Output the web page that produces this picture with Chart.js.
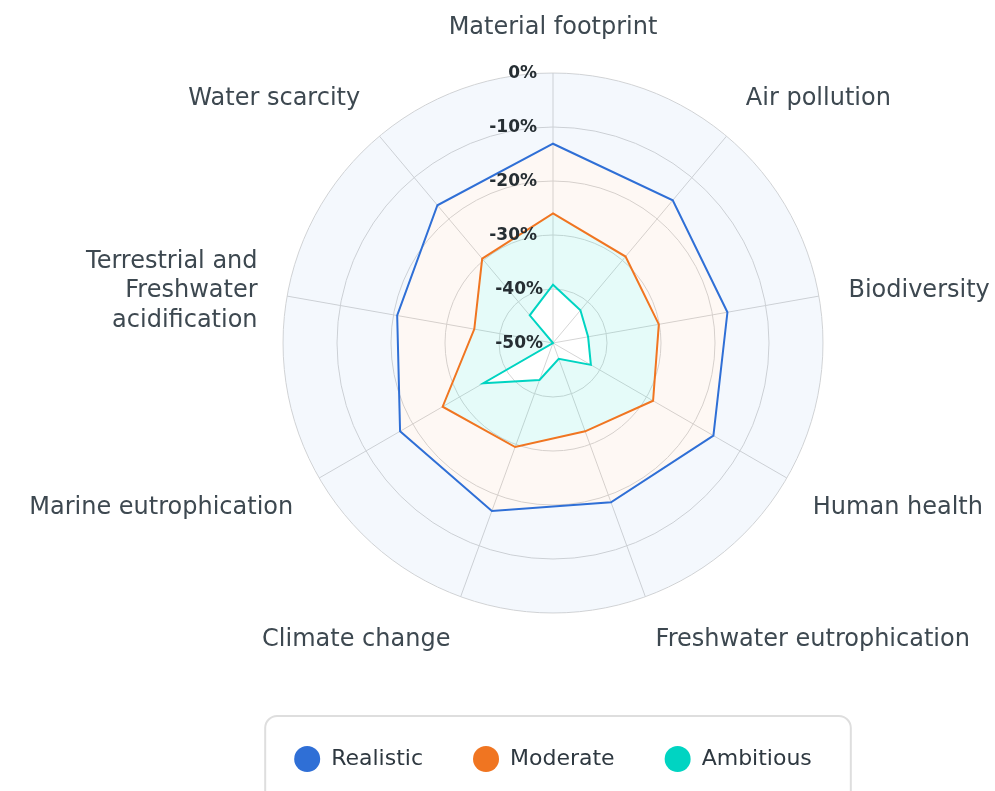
<!DOCTYPE html>
<html>
<head>
    <meta charset="utf-8" />
    <title>Impact reduction by scenario</title>
    <script src="https://cdn.jsdelivr.net/npm/chart.js"></script>
    <style>
        html, body { margin: 0; padding: 0; background: #ffffff; }
        #wrap { width: 995px; height: 791px; overflow: hidden; }
    </style>
</head>
<body>
    <div id="wrap">
        <canvas id="graficoRadar" width="995" height="791"></canvas>
    </div>

    <script>
        // Impact categories, clockwise from the top
        const categories = [
            'Material footprint',
            'Air pollution',
            'Biodiversity',
            'Human health',
            'Freshwater eutrophication',
            'Climate change',
            'Marine eutrophication',
            ['Terrestrial and', 'Freshwater', 'acidification'],
            'Water scarcity'
        ];

        // Change vs. baseline (%) per scenario
        const realistic = [-13.1, -15.5, -17.2, -15.7, -18.6, -16.9, -17.3, -20.7, -16.7];
        const moderate  = [-26.0, -29.1, -30.1, -28.6, -32.6, -29.5, -26.4, -35.2, -29.6];
        const ambitious = [-39.2, -42.1, -43.4, -41.9, -46.9, -42.7, -35.1, -50.0, -43.3];

        // Ring values, centre to edge
        const tickValues = [-50, -40, -30, -20, -10, 0];

        const labelFont = '24px "DejaVu Sans"';
        const labelLine = 29.5;
        const tickInset = [10, 10, 16, 16, 16, 16];

        // Ring labels, right aligned just left of the vertical axis
        const ringLabels = {
            id: 'ringLabels',
            afterDatasetsDraw(chart) {
                const scale = chart.scales.r;
                const ctx = chart.ctx;
                ctx.save();
                ctx.font = 'bold 17px "DejaVu Sans"';
                ctx.fillStyle = '#262e33';
                ctx.textAlign = 'right';
                ctx.textBaseline = 'middle';
                tickValues.forEach((v, i) => {
                    const y = scale.yCenter - scale.getDistanceFromCenterForValue(v);
                    ctx.fillText(v + '%', scale.xCenter - tickInset[i], y + 1);
                });
                ctx.restore();
            }
        };

        // Category names around the outer ring
        const axisNames = {
            id: 'axisNames',
            afterDraw(chart) {
                const scale = chart.scales.r;
                const ctx = chart.ctx;
                ctx.save();
                ctx.font = labelFont;
                ctx.fillStyle = '#3d4850';
                ctx.textBaseline = 'middle';
                categories.forEach((label, i) => {
                    const lines = [].concat(label);
                    const angle = scale.getIndexAngle(i);
                    const pos = scale.getPointPosition(i, scale.drawingArea + 30);
                    const deg = Math.round(angle * 180 / Math.PI) % 360;
                    ctx.textAlign = (deg === 0 || deg === 180) ? 'center' : (deg < 180 ? 'left' : 'right');
                    const h = lines.length * labelLine;
                    const c = Math.cos(angle);
                    let top;
                    if (Math.abs(c) < 0.25) top = pos.y - h / 2;
                    else if (c > 0) top = pos.y - h;
                    else top = pos.y;
                    lines.forEach((t, k) => ctx.fillText(t, pos.x, top + labelLine * (k + 0.5)));
                });
                ctx.restore();
            }
        };

        // Rounded frame around the legend
        const legendFrame = {
            id: 'legendFrame',
            afterDraw(chart) {
                const boxes = chart.legend.legendHitBoxes;
                if (!boxes || !boxes.length) return;
                const first = boxes[0];
                const last = boxes[boxes.length - 1];
                const cy = first.top + first.height / 2;
                const x0 = first.left - 29;
                const x1 = last.left + last.width + 39;
                const ctx = chart.ctx;
                ctx.save();
                ctx.strokeStyle = '#dedede';
                ctx.lineWidth = 2;
                ctx.beginPath();
                ctx.roundRect(x0, cy - 43, x1 - x0, 130, 12);
                ctx.stroke();
                ctx.restore();
            }
        };

        var ctx1 = document.getElementById('graficoRadar').getContext('2d');
        var radarChart = new Chart(ctx1, {
            type: 'radar',
            data: {
                labels: categories,
                datasets: [
                    {
                        label: 'Realistic',
                        data: realistic,
                        borderColor: '#2f6fd6',
                        backgroundColor: 'rgba(47, 111, 214, 0.05)',
                        fill: 'end',
                        borderWidth: 2,
                        pointRadius: 0
                    },
                    {
                        label: 'Moderate',
                        data: moderate,
                        borderColor: '#f07521',
                        backgroundColor: 'rgba(240, 117, 33, 0.05)',
                        fill: '-1',
                        borderWidth: 2,
                        pointRadius: 0
                    },
                    {
                        label: 'Ambitious',
                        data: ambitious,
                        borderColor: '#00d4c2',
                        backgroundColor: 'rgba(0, 212, 194, 0.1)',
                        fill: '-1',
                        borderWidth: 2,
                        pointRadius: 0
                    }
                ]
            },
            options: {
                responsive: false,
                animation: false,
                devicePixelRatio: 1,
                layout: {
                    padding: { left: 111, right: 0, top: 73, bottom: 11 }
                },
                scales: {
                    r: {
                        min: -50,
                        max: 0,
                        ticks: { stepSize: 10, display: false },
                        grid: { circular: true, color: '#d5d5d5', lineWidth: 1 },
                        angleLines: { color: '#d5d5d5', lineWidth: 1 },
                        pointLabels: { display: false }
                    }
                },
                plugins: {
                    tooltip: { enabled: false },
                    legend: {
                        position: 'bottom',
                        title: {
                            display: true,
                            text: '',
                            font: { size: 10, lineHeight: 1 },
                            padding: { top: 75, bottom: 0 }
                        },
                        labels: {
                            usePointStyle: true,
                            pointStyle: 'circle',
                            pointStyleWidth: 26,
                            boxHeight: 18.4,
                            padding: 50,
                            color: '#2e3840',
                            font: { family: '"DejaVu Sans"', size: 22 },
                            generateLabels: (chart) => Chart.defaults.plugins.legend.labels.generateLabels(chart).map(item => {
                                const ds = chart.data.datasets[item.datasetIndex];
                                item.fillStyle = ds.borderColor;
                                item.strokeStyle = ds.borderColor;
                                item.lineWidth = 0;
                                return item;
                            })
                        }
                    }
                }
            },
            plugins: [ringLabels, axisNames, legendFrame]
        });
    </script>
</body>
</html>
